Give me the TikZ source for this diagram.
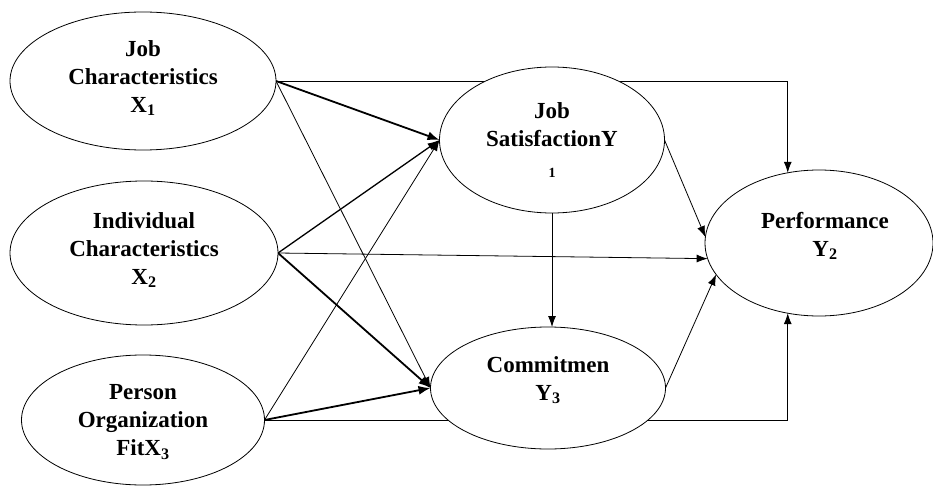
\documentclass[tikz,border=0pt]{standalone}
\usepackage{fontspec}
\setmainfont{Liberation Serif}
\usetikzlibrary{arrows.meta,backgrounds,shapes.geometric}
\begin{document}
\begin{tikzpicture}[x=1pt,y=-1pt,
  latent/.style={ellipse, draw, line width=0.8pt, fill=white, inner sep=0pt, outer sep=0pt},
  lbl/.style={align=center, font=\fontsize{23}{28}\selectfont\bfseries, inner sep=0pt},
  thinarrow/.style={line width=0.8pt, -{Latex[length=11pt,width=8pt]}},
  midarrow/.style={line width=1.3pt, -{Latex[length=12pt,width=8pt]}},
  strongarrow/.style={line width=1.8pt, -{Latex[length=12pt,width=9pt]}}]
\useasboundingbox (0,0) rectangle (933,489);
% latent variables
\node[latent, minimum width=266, minimum height=138] (X1) at (143,81) {};
\node[latent, minimum width=268, minimum height=144] (X2) at (144,253) {};
\node[latent, minimum width=243, minimum height=130] (X3) at (143,420) {};
\node[latent, minimum width=225, minimum height=146] (Y1) at (552,140) {};
\node[latent, minimum width=235, minimum height=122] (Y3) at (548,388) {};
\node[latent, minimum width=228, minimum height=146] (Y2) at (819,243) {};
% labels
\node[lbl] (tX1) at (143,78) {Job\\Characteristics\\X\textsubscript{1}};
\node[lbl] (tX2) at (144,250) {Individual\\Characteristics\\X\textsubscript{2}};
\node[lbl] (tX3) at (143,422) {Person\\Organization\\FitX\textsubscript{3}};
\node[lbl] (tY1) at (552,140) {Job\\SatisfactionY\\[3pt]{\fontsize{14}{16}\selectfont 1}};
\node[lbl] (tY3) at (548,380) {Commitmen\\Y\textsubscript{3}};
\node[lbl] (tY2) at (825,236) {Performance\\Y\textsubscript{2}};
% paths
\begin{scope}[on background layer]
\draw[thinarrow] (X1.east) -| (Y2.114);
\draw[strongarrow] (X1.east) -- (Y1.west);
\draw[thinarrow] (X1.east) -- (Y3.west);
\draw[midarrow] (X2.east) -- (Y1.west);
\draw[thinarrow] (X2.east) -- (Y2.188);
\draw[strongarrow] (X2.east) -- (Y3.west);
\draw[thinarrow] (X3.east) -- (Y1.west);
\draw[strongarrow] (X3.east) -- (Y3.west);
\draw[thinarrow] (X3.east) -| (Y2.246);
\draw[thinarrow] (Y1.east) -- (Y2.177);
\draw[thinarrow] (Y1.south) -- (Y1.south |- Y3.north);
\draw[thinarrow] (Y3.east) -- (Y2.197);
\end{scope}
\end{tikzpicture}
\end{document}
